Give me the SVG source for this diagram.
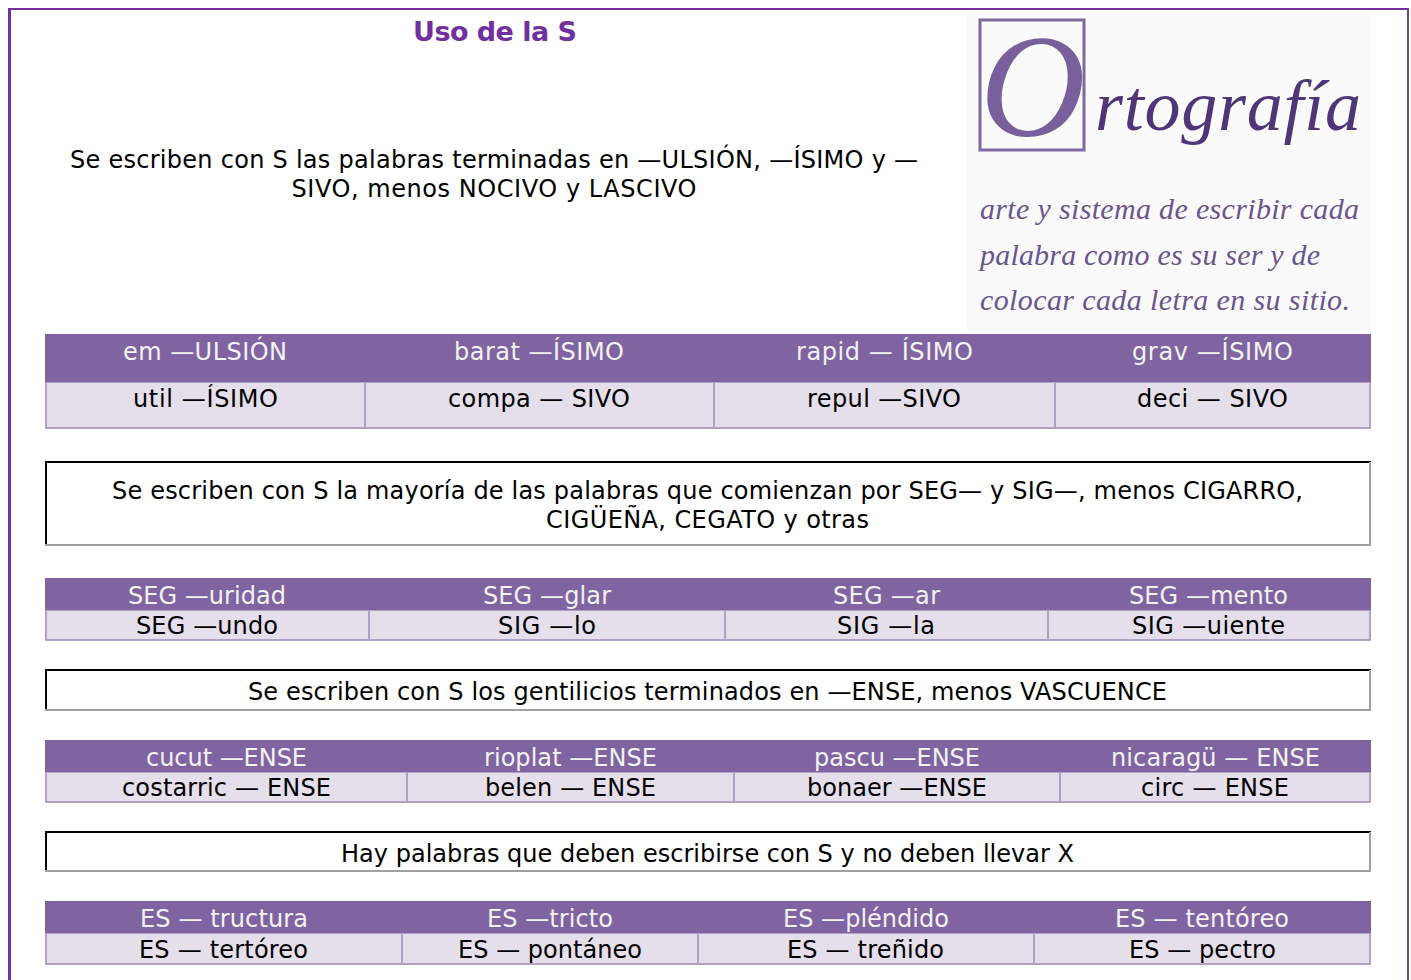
<svg xmlns="http://www.w3.org/2000/svg" width="1411" height="980" viewBox="0 0 1411 980">
<style>
text{font-family:"DejaVu Sans",Verdana,sans-serif;font-size:24px;text-anchor:middle;fill:#000}
.t{fill:#f2f2f2}
.h{fill:#8064a2}.b{fill:#e5dfec}
.d{stroke:#b2a1c7;stroke-width:2;fill:none}
.k{stroke:#000;stroke-width:2;fill:none}.g{stroke:#a0a0a0;stroke-width:2;fill:none}
.s{font-family:"Liberation Serif",serif;font-style:italic;text-anchor:start;fill:#6a5590;font-size:30px}
</style>
<rect width="1411" height="980" fill="#fff"/>
<path d="M8 980V8H1409V980H1407V10H11V980Z" fill="#7030a0"/>
<rect x="1407" y="10" width="2" height="970" fill="#65468f"/>
<text id="title" x="495" y="41" textLength="164" style="font-weight:bold;font-size:27px;fill:#7030a0">Uso de la S</text>
<g id="intro"><text x="494" y="168" textLength="848">Se escriben con S las palabras terminadas en —ULSIÓN, —ÍSIMO y —</text><text x="494" y="197" textLength="405">SIVO, menos NOCIVO y LASCIVO</text></g>
<g id="logo">
<rect x="967" y="12" width="404" height="322" fill="#fafafa"/>
<rect x="980" y="20" width="104" height="130" fill="none" stroke="#7f68a0" stroke-width="3"/>
<text class="s" x="980" y="136" textLength="102" style="font-size:146px;fill:#77609c">O</text>
<text class="s" x="1095" y="130" textLength="266" style="font-size:72px;fill:#4f3678">rtografía</text>
<text class="s" x="980" y="219" textLength="379">arte y sistema de escribir cada</text>
<text class="s" x="980" y="265" textLength="340">palabra como es su ser y de</text>
<text class="s" x="980" y="310" textLength="370">colocar cada letra en su sitio.</text>
</g>
<g id="table1">
<rect class="b" x="46" y="382" width="1324" height="46"/><rect class="d" x="46" y="382" width="1324" height="46"/>
<path class="d" d="M365 382V428M714 382V428M1055 382V428"/>
<rect class="h" x="45" y="334" width="1326" height="48"/>
<text class="t" x="205" y="360" textLength="164">em —ULSIÓN</text><text class="t" x="539" y="360" textLength="170">barat —ÍSIMO</text><text class="t" x="884.500" y="360" textLength="177">rapid — ÍSIMO</text><text class="t" x="1212.500" y="360" textLength="161">grav —ÍSIMO</text>
<text x="205.500" y="407" textLength="145">util —ÍSIMO</text><text x="539" y="407" textLength="182">compa — SIVO</text><text x="884" y="407" textLength="154">repul —SIVO</text><text x="1212.500" y="407" textLength="151">deci — SIVO</text>
</g>
<g id="box1"><path class="k" d="M46 546V462H1371"/><path class="g" d="M45 545H1370V462"/>
<text x="707.500" y="499" textLength="1191">Se escriben con S la mayoría de las palabras que comienzan por SEG— y SIG—, menos CIGARRO,</text><text x="707.500" y="528" textLength="323">CIGÜEÑA, CEGATO y otras</text></g>
<g id="table2">
<rect class="b" x="46" y="610" width="1324" height="30"/><rect class="d" x="46" y="610" width="1324" height="30"/>
<path class="d" d="M369 610V640M725 610V640M1048 610V640"/>
<rect class="h" x="45" y="578" width="1326" height="32"/>
<text class="t" x="207" y="604" textLength="158">SEG —uridad</text><text class="t" x="547" y="604" textLength="128">SEG —glar</text><text class="t" x="886.500" y="604" textLength="107">SEG —ar</text><text class="t" x="1208.500" y="604" textLength="159">SEG —mento</text>
<text x="207" y="634" textLength="142">SEG —undo</text><text x="547" y="634" textLength="98">SIG —lo</text><text x="886" y="634" textLength="98">SIG —la</text><text x="1208.500" y="634" textLength="153">SIG —uiente</text>
</g>
<g id="box2"><path class="k" d="M46 711V670H1371"/><path class="g" d="M45 710H1370V670"/>
<text x="707.500" y="700" textLength="919">Se escriben con S los gentilicios terminados en —ENSE, menos VASCUENCE</text></g>
<g id="table3">
<rect class="b" x="46" y="772" width="1324" height="30"/><rect class="d" x="46" y="772" width="1324" height="30"/>
<path class="d" d="M407 772V802M734 772V802M1060 772V802"/>
<rect class="h" x="45" y="740" width="1326" height="32"/>
<text class="t" x="226.500" y="766" textLength="161">cucut —ENSE</text><text class="t" x="570.500" y="766" textLength="173">rioplat —ENSE</text><text class="t" x="897" y="766" textLength="166">pascu —ENSE</text><text class="t" x="1215.500" y="766" textLength="209">nicaragü — ENSE</text>
<text x="226.500" y="796" textLength="209">costarric — ENSE</text><text x="570.500" y="796" textLength="171">belen — ENSE</text><text x="897" y="796" textLength="180">bonaer —ENSE</text><text x="1215" y="796" textLength="148">circ — ENSE</text>
</g>
<g id="box3"><path class="k" d="M46 872V832H1371"/><path class="g" d="M45 871H1370V832"/>
<text x="707.500" y="862" textLength="733">Hay palabras que deben escribirse con S y no deben llevar X</text></g>
<g id="table4">
<rect class="b" x="46" y="933" width="1324" height="31"/><rect class="d" x="46" y="933" width="1324" height="31"/>
<path class="d" d="M402 933V964M698 933V964M1034 933V964"/>
<rect class="h" x="45" y="901" width="1326" height="32"/>
<text class="t" x="224" y="927" textLength="168">ES — tructura</text><text class="t" x="550" y="927" textLength="126">ES —tricto</text><text class="t" x="866" y="927" textLength="166">ES —pléndido</text><text class="t" x="1202" y="927" textLength="174">ES — tentóreo</text>
<text x="223.500" y="958" textLength="169">ES — tertóreo</text><text x="550" y="958" textLength="184">ES — pontáneo</text><text x="865.500" y="958" textLength="157">ES — treñido</text><text x="1202.500" y="958" textLength="147">ES — pectro</text>
</g>
</svg>
